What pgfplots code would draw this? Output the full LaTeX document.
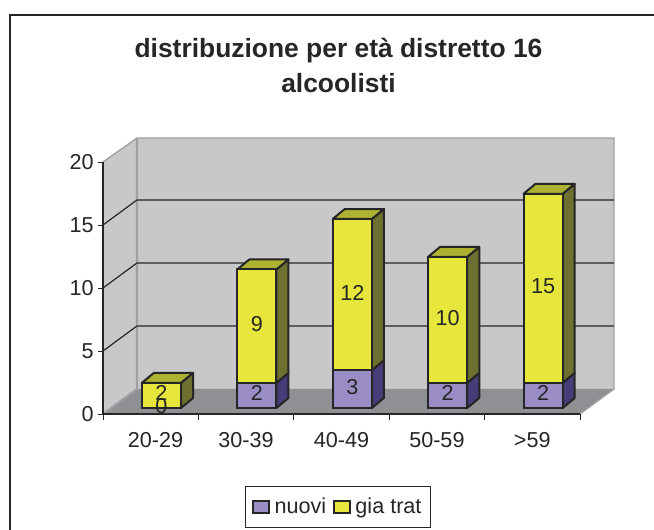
\documentclass[border=0pt]{standalone}
\usepackage{fontspec}
\setmainfont{Liberation Sans}
\usepackage{pgfplots}
\pgfplotsset{compat=1.18}
\usepackage{pgfplotstable}
\definecolor{ink}{HTML}{262626}
\definecolor{wall}{HTML}{C8C8CB}
\definecolor{walledge}{HTML}{A0A0A4}
\definecolor{floorc}{HTML}{8F9094}
\definecolor{yel}{HTML}{E6E63C}
\definecolor{yelside}{HTML}{6E7030}
\definecolor{yeltop}{HTML}{ADB232}
\definecolor{pur}{HTML}{9A8CC4}
\definecolor{purside}{HTML}{453C78}
\pgfplotstableread{
x nuovi giatrat
0 0 2
1 2 9
2 3 12
3 2 10
4 2 15
}\bars
\pgfplotstableread{
x y label
0 0 0
0 1 2
1 1 2
1 6.5 9
2 1.5 3
2 9 12
3 1 2
3 7 10
4 1 2
4 9.5 15
}\labels
\newcommand\sideface[4]{%
  \pgfmathsetmacro\xa{#2+0.205}\pgfmathsetmacro\xb{#2+0.331}%
  \pgfmathsetmacro\ya{#3+0.79}\pgfmathsetmacro\yb{#4+0.79}%
  \edef\tmp{\noexpand\addplot[fill=#1,draw=ink,line width=1.5pt,line join=round] coordinates {(\xa,#3) (\xb,\ya) (\xb,\yb) (\xa,#4)} -- cycle;}\tmp}
\newcommand\topface[3]{%
  \pgfmathsetmacro\xa{#2-0.205}\pgfmathsetmacro\xb{#2+0.205}\pgfmathsetmacro\xc{#2+0.331}\pgfmathsetmacro\xd{#2-0.079}%
  \pgfmathsetmacro\yb{#3+0.79}%
  \edef\tmp{\noexpand\addplot[fill=#1,draw=ink,line width=1.5pt,line join=round] coordinates {(\xa,#3) (\xb,#3) (\xc,\yb) (\xd,\yb)} -- cycle;}\tmp}
\pgfplotsset{
  geom/.style={scale only axis,width=357.75pt,height=189pt,clip=false,at={(77.25pt,87pt)},anchor=south west},
  barcoords/.style={geom,xmin=-0.613,xmax=4.387,ymin=-0.476,ymax=19.524},
}
\begin{document}
\begin{tikzpicture}[x=0.75pt,y=0.75pt]
\path[use as bounding box,fill=white] (0,0) rectangle (654,530);
\draw[ink,line width=1.9pt] (654,515) -- (10,515) -- (10,0);
\node[font=\fontsize{19.8pt}{26pt}\selectfont\bfseries,text=ink,align=center] at (338.5,464.5)
  {distribuzione per età distretto 16\\alcoolisti};
\begin{axis}[geom,xmin=0,xmax=5,ymin=0,ymax=20,axis on top,
  axis x line=bottom,axis y line=left,axis line style={-,ink,line width=0.9pt},
  xtick={0.55,1.5,2.5,3.5,4.5},xticklabels={20-29,30-39,40-49,50-59,>59},
  minor xtick={0,1,2,3,4,5},
  ytick={0,5,10,15,20},
  major x tick style={draw=none},minor x tick style={ink,line width=0.7pt},
  minor tick length=4.5pt,major tick length=4pt,
  ytick style={ink,line width=0.7pt},
  tick align=outside,
  tick label style={font=\fontsize{16.2pt}{18pt}\selectfont,text=ink},
  xticklabel style={yshift=-6pt},
  yticklabel style={xshift=0.5pt},
  /pgf/number format/assume math mode=true]
\addplot[fill=wall,draw=none] coordinates {(0.356,1.984) (5.356,1.984) (5.356,21.9) (0.356,21.9)} -- cycle;
\addplot[fill=wall,draw=none] coordinates {(0,0) (0.356,1.984) (0.356,21.9) (0,20)} -- cycle;
\addplot[fill=floorc,draw=none] coordinates {(0,0) (5,0) (5.356,1.984) (0.356,1.984)} -- cycle;
\addplot[walledge,line width=1pt] coordinates {(0,20) (0.356,21.9) (5.356,21.9) (5.356,1.984) (5,0)};
\addplot[walledge,line width=1.6pt] coordinates {(0.356,21.9) (0.356,1.984) (0,0)};
\addplot[ink,line width=0.9pt] coordinates {(0,5) (0.356,6.984) (5.356,6.984)};
\addplot[ink,line width=0.9pt] coordinates {(0,10) (0.356,11.984) (5.356,11.984)};
\addplot[ink,line width=0.9pt] coordinates {(0,15) (0.356,16.984) (5.356,16.984)};
\end{axis}
\begin{axis}[barcoords,hide axis]
\sideface{yelside}{0}{0}{2}
\topface{yeltop}{0}{2}
\sideface{purside}{1}{0}{2}
\sideface{yelside}{1}{2}{11}
\topface{yeltop}{1}{11}
\sideface{purside}{2}{0}{3}
\sideface{yelside}{2}{3}{15}
\topface{yeltop}{2}{15}
\sideface{purside}{3}{0}{2}
\sideface{yelside}{3}{2}{12}
\topface{yeltop}{3}{12}
\sideface{purside}{4}{0}{2}
\sideface{yelside}{4}{2}{17}
\topface{yeltop}{4}{17}
\end{axis}
\begin{axis}[barcoords,hide axis,ybar stacked,bar width=0.41,
  legend columns=2,
  legend style={at={(0.4927,-0.369)},anchor=center,draw=ink,line width=0.8pt,
    font=\fontsize{16.2pt}{18pt}\selectfont,text=ink,inner xsep=5pt,inner ysep=6.5pt,
    /tikz/every even column/.append style={column sep=3pt}},
  legend image code/.code={\draw[#1,line width=1.5pt] (0pt,-4.8pt) rectangle (12pt,4.6pt);},
  /tikz/every odd column/.append style={column sep=1.5pt}]
\addplot[fill=pur,draw=ink,line width=1.5pt] table[x=x,y=nuovi]{\bars};
\addlegendentry{nuovi}
\addplot[fill=yel,draw=ink,line width=1.5pt] table[x=x,y=giatrat]{\bars};
\addlegendentry{gia trat}
\end{axis}
\begin{axis}[barcoords,hide axis]
\addplot[only marks,mark=none,point meta=explicit symbolic,
  nodes near coords,
  nodes near coords style={anchor=center,yshift=1.5pt,font=\fontsize{16.2pt}{18pt}\selectfont,text=ink}]
  table[x=x,y=y,meta=label]{\labels};
\end{axis}
\end{tikzpicture}
\end{document}
